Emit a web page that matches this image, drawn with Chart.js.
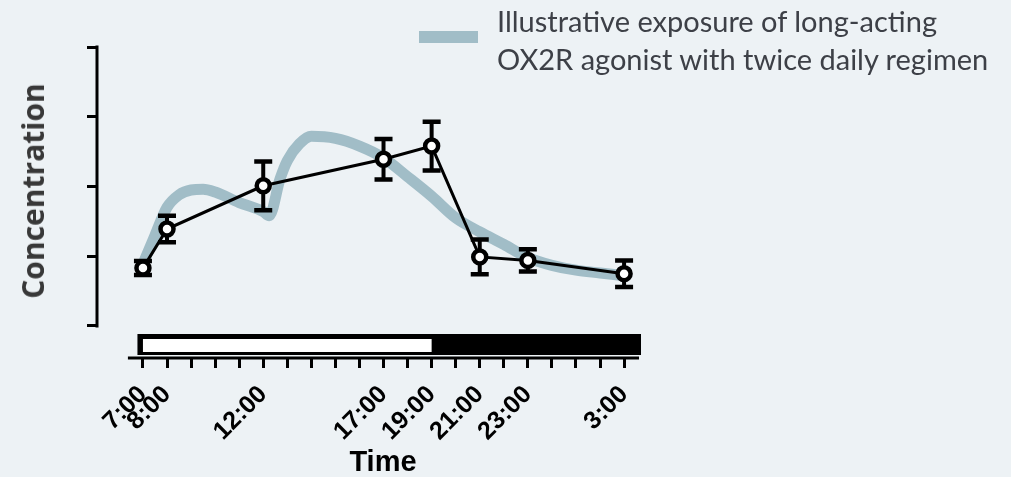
<!DOCTYPE html>
<html>
<head>
<meta charset="utf-8">
<script src="https://cdn.jsdelivr.net/npm/chart.js@4.4.1/dist/chart.umd.min.js"></script>
<style>
  html, body { margin: 0; padding: 0; background: #edf2f5; }
  #wrap { position: relative; width: 1011px; height: 477px; overflow: hidden; background: #edf2f5; }
  #c { position: absolute; left: 0; top: 0; }
  .swatch { position: absolute; left: 419px; top: 31px; width: 59px; height: 12px; }
  .legend-text { position: absolute; left: 497px; top: 2px; font-family: 'Lato', sans-serif; font-size: 29px; line-height: 38px; color: #3d4047; white-space: nowrap; }
  .ytitle { position: absolute; left: 33px; top: 191px; transform: translate(-50%, -50%) rotate(-90deg); font-family: 'Open Sans', sans-serif; font-weight: 700; font-size: 30px; line-height: 1; color: #383838; white-space: nowrap; }
  .xtitle { position: absolute; left: 383px; top: 461px; transform: translate(-50%, -50%); font-family: 'Liberation Sans', Arial, sans-serif; font-weight: 700; font-size: 29px; line-height: 1; color: #000; white-space: nowrap; }
</style>
</head>
<body>
<div id="wrap">
  <canvas id="c" width="1011" height="477"></canvas>
  <div class="swatch" id="swatch"></div>
  <div class="legend-text">Illustrative exposure of long-acting<br>OX2R agonist with twice daily regimen</div>
  <div class="ytitle">Concentration</div>
  <div class="xtitle">Time</div>
</div>
<script>
// Sampling times (hours from midnight; 27 = 3:00 next day) and their axis labels
const hours = [7, 8, 12, 17, 19, 21, 23, 27];
const timeLabels = ['7:00', '8:00', '12:00', '17:00', '19:00', '21:00', '23:00', '3:00'];

// Measured concentration (mean and error)
const concMean = [0.83, 1.39, 2.01, 2.39, 2.58, 0.99, 0.94, 0.75];
const concErr  = [0.10, 0.19, 0.35, 0.29, 0.35, 0.25, 0.16, 0.19];

// Illustrative exposure profile, twice daily dosing
const exposureHours = [7, 7.5, 8, 8.5, 9, 9.5, 10, 11, 12, 12.25, 12.7, 13, 13.5, 14, 15, 16, 17, 18, 19, 20, 21, 22, 23, 24, 25, 26, 27];
const exposureConc  = [0.89, 1.30, 1.70, 1.88, 1.95, 1.96, 1.92, 1.77, 1.64, 1.58, 2.11, 2.37, 2.61, 2.72, 2.69, 2.58, 2.41, 2.14, 1.86, 1.55, 1.35, 1.17, 0.98, 0.87, 0.80, 0.76, 0.72];

// Y tick values and the light period of the day/night bar
const yTicks = [0, 1, 2, 3, 4];
const lightPeriod = [7, 19];

const TEAL = '#a1bdc7';
document.getElementById('swatch').style.background = TEAL;

const hourTicks = [];
for (let h = hours[0]; h <= hours[hours.length - 1]; h++) hourTicks.push(h);

const labelFor = v => {
  const i = hours.indexOf(v);
  return i >= 0 ? timeLabels[i] : '';
};

// Prism-style detached axes, day/night bar and error bars
const prismDecor = {
  id: 'prismDecor',
  beforeDatasetsDraw(chart) {
    const { ctx, chartArea, scales } = chart;
    const x = scales.x, y = scales.y;
    ctx.save();

    // day/night bar
    const barTop = chartArea.bottom - 24;
    const barBot = chartArea.bottom - 3;
    const xL = x.getPixelForValue(lightPeriod[0]);
    const xD = x.getPixelForValue(lightPeriod[1]);
    ctx.fillStyle = '#000';
    ctx.fillRect(xL - 5.5, barTop, chartArea.right + 2 - (xL - 5.5), barBot - barTop);
    ctx.fillStyle = '#ffffff';
    ctx.fillRect(xL, barTop + 5, xD - xL, barBot - barTop - 8);

    // axis lines
    ctx.strokeStyle = '#000';
    ctx.lineWidth = 3;
    ctx.lineCap = 'butt';
    ctx.beginPath();
    ctx.moveTo(x.getPixelForValue(6.375), chartArea.bottom);
    ctx.lineTo(chartArea.right, chartArea.bottom);
    ctx.stroke();
    ctx.beginPath();
    ctx.moveTo(chartArea.left, y.getPixelForValue(yTicks[yTicks.length - 1]) - 1.5);
    ctx.lineTo(chartArea.left, y.getPixelForValue(yTicks[0]) + 1.5);
    ctx.stroke();
    ctx.restore();
  },
  beforeDatasetDraw(chart, args) {
    if (args.index !== 0) return;
    const { ctx, scales } = chart;
    const x = scales.x, y = scales.y;
    ctx.save();
    ctx.strokeStyle = '#000';
    ctx.lineCap = 'butt';
    hours.forEach((h, i) => {
      const px = x.getPixelForValue(h);
      const yHi = y.getPixelForValue(concMean[i] + concErr[i]);
      const yLo = y.getPixelForValue(concMean[i] - concErr[i]);
      ctx.lineWidth = 4;
      ctx.beginPath();
      ctx.moveTo(px, yHi);
      ctx.lineTo(px, yLo);
      ctx.stroke();
      ctx.lineWidth = 4.5;
      ctx.beginPath();
      ctx.moveTo(px - 9, yHi); ctx.lineTo(px + 9, yHi);
      ctx.moveTo(px - 9, yLo); ctx.lineTo(px + 9, yLo);
      ctx.stroke();
    });
    ctx.restore();
  }
};

new Chart(document.getElementById('c'), {
  type: 'scatter',
  data: {
    datasets: [
      {
        label: 'Measured',
        data: hours.map((h, i) => ({ x: h, y: concMean[i] })),
        showLine: true,
        borderColor: '#000',
        borderWidth: 3,
        pointRadius: 6.5,
        pointBorderWidth: 4.5,
        pointBackgroundColor: '#ffffff',
        pointBorderColor: '#000'
      },
      {
        label: 'Illustrative exposure of long-acting OX2R agonist with twice daily regimen',
        data: exposureHours.map((h, i) => ({ x: h, y: exposureConc[i] })),
        showLine: true,
        borderColor: TEAL,
        borderWidth: 11,
        pointRadius: 0,
        cubicInterpolationMode: 'monotone',
        borderCapStyle: 'butt',
        borderJoinStyle: 'round'
      }
    ]
  },
  options: {
    responsive: false,
    animation: false,
    devicePixelRatio: 1,
    layout: { padding: { left: 0, top: 47, right: 372, bottom: 0 } },
    plugins: { legend: { display: false }, tooltip: { enabled: false } },
    scales: {
      x: {
        type: 'linear',
        min: 5.09,
        max: 27.62,
        afterBuildTicks: s => { s.ticks = hourTicks.map(v => ({ value: v })); },
        afterFit: s => { s.height = 119; },
        border: { display: false },
        grid: { drawOnChartArea: false, drawTicks: true, tickLength: 10, tickWidth: 3, tickColor: '#000' },
        ticks: {
          autoSkip: false,
          minRotation: 45,
          maxRotation: 45,
          padding: 12,
          color: '#000',
          font: { family: 'Liberation Sans', weight: 'bold', size: 25 },
          callback: v => labelFor(v)
        }
      },
      y: {
        min: -0.459,
        max: 4,
        afterBuildTicks: s => { s.ticks = yTicks.map(v => ({ value: v })); },
        afterFit: s => { s.width = 97; },
        border: { display: false },
        grid: { drawOnChartArea: false, drawTicks: true, tickLength: 10, tickWidth: 3, tickColor: '#000' },
        ticks: { display: false }
      }
    }
  },
  plugins: [prismDecor]
});
</script>
</body>
</html>
